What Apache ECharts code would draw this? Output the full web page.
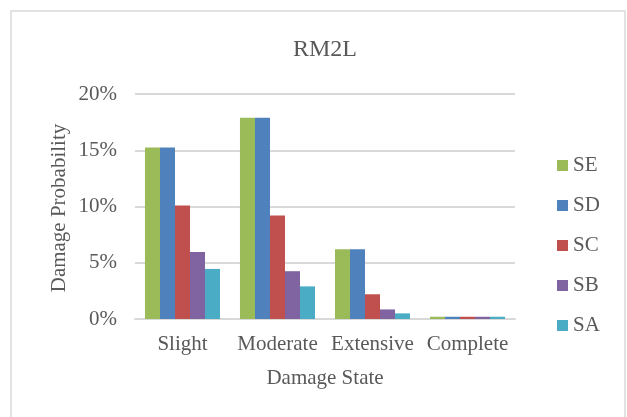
<!DOCTYPE html>
<html>
<head>
<meta charset="utf-8">
<script src="https://cdn.jsdelivr.net/npm/echarts@6/dist/echarts.min.js"></script>
<style>
  html, body { margin: 0; padding: 0; background: #fff; }
  #grafico { width: 627px; height: 417px; }
</style>
</head>
<body>
<div id="grafico"></div>
<script>
// datos (fraccion)
const categorias = ['Slight', 'Moderate', 'Extensive', 'Complete']
const serieSE = [0.1525, 0.179, 0.062, 0.002]
const serieSD = [0.1525, 0.179, 0.062, 0.002]
const serieSC = [0.101, 0.092, 0.022, 0.002]
const serieSB = [0.0595, 0.0425, 0.0085, 0.002]
const serieSA = [0.0445, 0.029, 0.005, 0.002]
const nombres = ['SE', 'SD', 'SC', 'SB', 'SA']
const colores = ['#9bbb59', '#4f81bd', '#c0504d', '#8064a2', '#4bacc6']

const fuente = 'Liberation Serif'
const gris = '#595959'

const chart = echarts.init(document.getElementById('grafico'))

const datos = [serieSE, serieSD, serieSC, serieSB, serieSA]

let option = {
  animation: false,
  textStyle: { fontFamily: fuente },
  title: {
    text: 'RM2L',
    left: 320,
    top: 33,
    textAlign: 'center',
    textStyle: { fontFamily: fuente, fontSize: 24, fontWeight: 'normal', color: gris }
  },
  legend: {
    orient: 'vertical',
    left: 552,
    top: 150,
    itemWidth: 11,
    itemHeight: 11,
    itemGap: 19,
    icon: 'rect',
    data: nombres,
    textStyle: { fontFamily: fuente, fontSize: 21, color: gris }
  },
  grid: {
    left: 135,
    right: 112,
    top: 94,
    bottom: 98
  },
  xAxis: {
    type: 'category',
    data: categorias,
    name: 'Damage State',
    nameLocation: 'middle',
    nameGap: 49,
    nameTextStyle: { fontFamily: fuente, fontSize: 21, color: gris },
    axisLine: { lineStyle: { color: '#d9d9d9', width: 2 } },
    axisTick: { show: false },
    axisLabel: { interval: 0, fontFamily: fuente, fontSize: 21, color: gris, margin: 15 }
  },
  yAxis: {
    type: 'value',
    min: 0,
    max: 0.2,
    interval: 0.05,
    axisLine: { show: false },
    axisTick: { show: false },
    splitLine: { lineStyle: { color: '#d9d9d9', width: 2 } },
    axisLabel: {
      fontFamily: fuente,
      fontSize: 21,
      color: gris,
      margin: 18,
      formatter: v => Math.round(v * 100) + '%'
    }
  },
  graphic: [
    {
      type: 'rect',
      shape: { x: 11, y: 11, width: 614, height: 430 },
      style: { fill: 'none', stroke: '#d9d9d9', lineWidth: 1.5 },
      silent: true
    },
    {
      type: 'text',
      x: 59,
      y: 208,
      rotation: Math.PI / 2,
      style: {
        text: 'Damage Probability',
        fontFamily: fuente,
        fontSize: 21,
        fill: gris,
        align: 'center',
        verticalAlign: 'middle'
      }
    }
  ],
  series: nombres.map((n, i) => ({
    name: n,
    type: 'bar',
    data: datos[i],
    barGap: '0%',
    barCategoryGap: '21%',
    itemStyle: { color: colores[i] }
  }))
}

chart.setOption(option)
</script>
</body>
</html>
